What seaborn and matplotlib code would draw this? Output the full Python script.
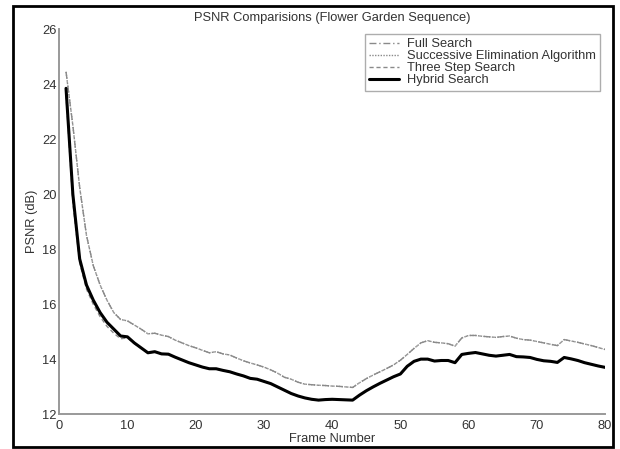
import numpy as np
import pandas as pd
import matplotlib
matplotlib.use("Agg")
import matplotlib.pyplot as plt
import seaborn as sns
from matplotlib.patches import Rectangle

frames = list(range(1, 81))

full_search = [24.45, 22.5, 20.25, 18.5, 17.4, 16.7, 16.15, 15.7, 15.45, 15.4,
               15.25, 15.1, 14.93, 14.95, 14.88, 14.83, 14.7, 14.6, 14.5, 14.42,
               14.33, 14.24, 14.28, 14.2, 14.16, 14.05, 13.95, 13.87, 13.8, 13.72,
               13.62, 13.5, 13.35, 13.28, 13.17, 13.1, 13.08, 13.06, 13.05, 13.03,
               13.02, 13.0, 12.98, 13.15, 13.3, 13.43, 13.55, 13.67, 13.8, 13.97,
               14.18, 14.4, 14.6, 14.68, 14.62, 14.6, 14.57, 14.48, 14.78, 14.87,
               14.87, 14.84, 14.82, 14.8, 14.83, 14.85, 14.77, 14.72, 14.7, 14.65,
               14.6, 14.55, 14.5, 14.72, 14.67, 14.62, 14.56, 14.5, 14.43, 14.36]

sea = [24.45, 22.5, 20.25, 18.5, 17.4, 16.7, 16.15, 15.7, 15.45, 15.4,
       15.25, 15.1, 14.93, 14.95, 14.88, 14.83, 14.7, 14.6, 14.5, 14.42,
       14.33, 14.24, 14.28, 14.2, 14.16, 14.05, 13.95, 13.87, 13.8, 13.72,
       13.62, 13.5, 13.35, 13.28, 13.17, 13.1, 13.08, 13.06, 13.05, 13.03,
       13.02, 13.0, 12.98, 13.15, 13.3, 13.43, 13.55, 13.67, 13.8, 13.97,
       14.18, 14.4, 14.6, 14.68, 14.62, 14.6, 14.57, 14.48, 14.78, 14.87,
       14.87, 14.84, 14.82, 14.8, 14.83, 14.85, 14.77, 14.72, 14.7, 14.65,
       14.6, 14.55, 14.5, 14.72, 14.67, 14.62, 14.56, 14.5, 14.43, 14.36]

three_step = [23.6, 19.7, 17.5, 16.55, 16.0, 15.55, 15.2, 14.95, 14.75, 14.78,
              14.58, 14.4, 14.23, 14.27, 14.19, 14.18, 14.07, 13.97, 13.87, 13.79,
              13.71, 13.65, 13.65, 13.59, 13.54, 13.46, 13.39, 13.3, 13.27, 13.19,
              13.11, 12.99, 12.87, 12.75, 12.66, 12.59, 12.54, 12.51, 12.53, 12.54,
              12.53, 12.52, 12.51, 12.69, 12.85, 12.99, 13.12, 13.24, 13.36, 13.46,
              13.74, 13.92, 14.0, 14.0, 13.93, 13.95, 13.95, 13.87, 14.17, 14.21,
              14.24, 14.19, 14.14, 14.11, 14.14, 14.17, 14.09, 14.08, 14.06, 13.99,
              13.94, 13.92, 13.88, 14.06, 14.01, 13.95, 13.87, 13.81, 13.75, 13.7]

hybrid = [23.85, 20.0, 17.65, 16.7, 16.15, 15.7, 15.35, 15.1, 14.85, 14.82,
          14.6, 14.42, 14.24, 14.28, 14.2, 14.19, 14.08, 13.98, 13.88, 13.8,
          13.72, 13.66, 13.66, 13.6, 13.55, 13.47, 13.4, 13.31, 13.28, 13.2,
          13.12, 13.0, 12.88, 12.76, 12.67, 12.6, 12.55, 12.52, 12.54, 12.55,
          12.54, 12.53, 12.52, 12.7, 12.86, 13.0, 13.13, 13.25, 13.37, 13.47,
          13.75, 13.93, 14.01, 14.01, 13.94, 13.96, 13.96, 13.88, 14.18, 14.22,
          14.25, 14.2, 14.15, 14.12, 14.15, 14.18, 14.1, 14.09, 14.07, 14.0,
          13.95, 13.93, 13.89, 14.07, 14.02, 13.96, 13.88, 13.82, 13.76, 13.71]

series_names = ["Full Search", "Successive Elimination Algorithm",
                "Three Step Search", "Hybrid Search"]
x_ticks = [0, 10, 20, 30, 40, 50, 60, 70, 80]
y_ticks = [12, 14, 16, 18, 20, 22, 24, 26]

sns.set_style("white")
plt.rcParams['font.family'] = ['Liberation Sans', 'DejaVu Sans']

fig = plt.figure(figsize=(6.2, 4.49), dpi=100)
ax = fig.add_axes([0.0955, 0.077, 0.8805, 0.858])

styles = [
    dict(color="#8a8a8a", linestyle=(0, (5, 2, 1, 2)), linewidth=1.0),
    dict(color="#8a8a8a", linestyle=(0, (1, 1)), linewidth=1.0),
    dict(color="#8a8a8a", linestyle=(0, (3, 2)), linewidth=1.0),
    dict(color="#000000", linestyle="-", linewidth=2.2),
]
data = [full_search, sea, three_step, hybrid]
for name, vals, st in zip(series_names, data, styles):
    df = pd.DataFrame({"Frame": frames, "PSNR": vals})
    sns.lineplot(data=df, x="Frame", y="PSNR", ax=ax, label=name, **st)

fs = 9.3
ax.set_xlim(0, 80)
ax.set_ylim(12, 26)
ax.set_xticks(x_ticks)
ax.set_yticks(y_ticks)
ax.tick_params(direction="in", length=4, width=0.9, colors="#999999",
               labelcolor="#333333", labelsize=fs, pad=2)
ax.tick_params(axis="x", pad=4)
for s in ["top", "right"]:
    ax.spines[s].set_visible(False)
for s in ["left", "bottom"]:
    ax.spines[s].set_color("#999999")
    ax.spines[s].set_linewidth(1.4)

ax.set_xlabel("Frame Number", fontsize=fs, color="#333333", labelpad=1)
ax.set_ylabel("PSNR (dB)", fontsize=fs, color="#333333", labelpad=3)
ax.set_title("PSNR Comparisions (Flower Garden Sequence)", fontsize=fs,
             color="#333333", pad=6)

leg = ax.legend(loc="upper right", bbox_to_anchor=(0.991, 0.988),
                borderaxespad=0, fontsize=fs, frameon=True, fancybox=False,
                handlelength=2.3, handletextpad=0.6, labelspacing=0.0,
                borderpad=0.35)
leg.get_frame().set_edgecolor("#999999")
leg.get_frame().set_linewidth(1.0)
for t in leg.get_texts():
    t.set_color("#333333")

fig.patches.append(Rectangle((0.021, 0.0045), 0.968, 0.982,
                             transform=fig.transFigure, fill=False,
                             edgecolor="black", linewidth=2.0))

fig.savefig("out.png", dpi=100)
